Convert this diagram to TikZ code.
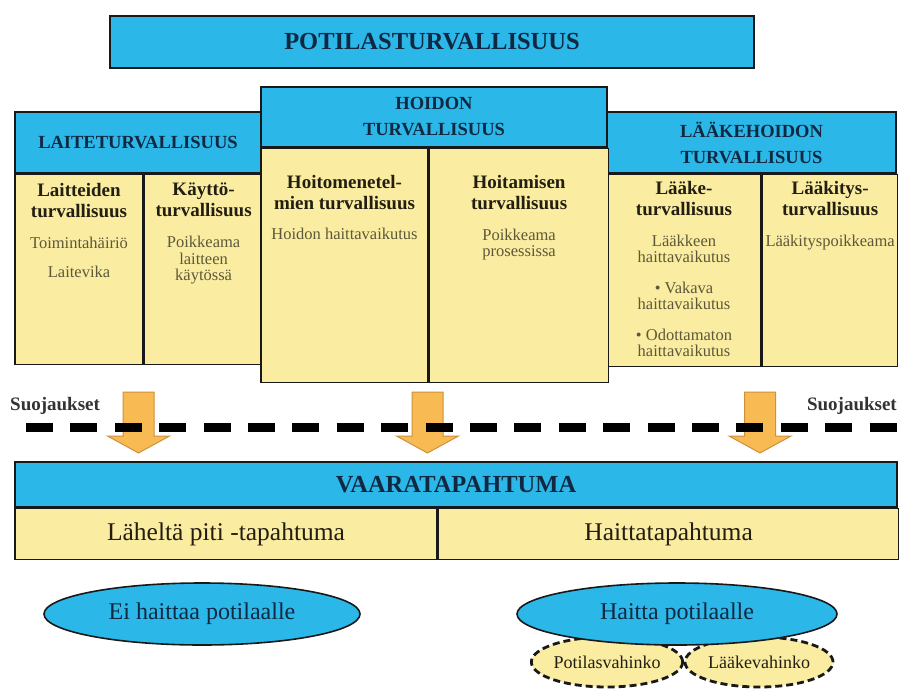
\documentclass[tikz,border=0pt]{standalone}
\usepackage{fontspec}
\setmainfont{Liberation Serif}
\usetikzlibrary{positioning,shapes.geometric}
\definecolor{skyblue}{RGB}{43,183,232}
\definecolor{paleyellow}{RGB}{250,236,160}
\definecolor{navytext}{RGB}{16,40,66}
\definecolor{darktext}{RGB}{35,30,18}
\definecolor{olivetext}{RGB}{92,88,58}
\definecolor{arrowfill}{RGB}{248,186,82}
\definecolor{arrowline}{RGB}{205,145,60}
\definecolor{edge}{RGB}{25,25,25}

\begin{document}
\begin{tikzpicture}[x=1pt, y=-1pt,
    bluebox/.style = {draw=edge, line width=1.6pt, fill=skyblue, text=navytext, inner sep=0pt, align=center},
    cell/.style = {draw=edge, line width=1.6pt, fill=paleyellow, text=darktext, inner sep=0pt, align=center},
    headfont/.style = {font=\bfseries\fontsize{18.5}{26}\selectfont},
    bigfont/.style = {font=\bfseries\fontsize{24.5}{28}\selectfont},
    celltitle/.style = {font=\bfseries\fontsize{19}{21}\selectfont, text=darktext, align=center, inner sep=0pt},
    celltext/.style = {font=\fontsize{16.5}{16.5}\selectfont, text=olivetext, align=center, inner sep=0pt},
    rowtext/.style = {font=\fontsize{25.5}{28}\selectfont},
    oval/.style = {draw=edge, line width=1.6pt, fill=skyblue, text=navytext, ellipse, inner sep=0pt, font=\fontsize{24}{26}\selectfont},
    dashoval/.style = {draw=edge, line width=2.8pt, dash pattern=on 7pt off 4pt, fill=paleyellow, text=darktext, ellipse, inner sep=0pt, font=\fontsize{18}{20}\selectfont},
    guard/.style = {font=\bfseries\fontsize{19}{21}\selectfont, text=black!80, inner sep=0pt},
    downarrow/.style = {draw=arrowline, line width=1pt, fill=arrowfill},
    barrier/.style = {draw=black, line width=9pt, dash pattern=on 27pt off 17.4pt}]

    \useasboundingbox (0,0) rectangle (904,688);

    \node[bluebox, bigfont, minimum width=644pt, minimum height=52pt] (title) at (432,42) {POTILASTURVALLISUUS};

    \node[bluebox, headfont, minimum width=246pt, minimum height=61pt] (laite) at (138,142.5) {LAITETURVALLISUUS};
    \node[cell, anchor=north west, minimum width=128pt, minimum height=190pt] (laite1) at (laite.south west) {};
    \node[cell, anchor=north west, minimum width=118pt, minimum height=190pt] (laite2) at (laite1.north east) {};
    \node[celltitle, below=8.9pt of laite1.north] (laite1t) {Laitteiden\\turvallisuus};
    \node[celltext, below=19pt of laite1t] (laite1x) {Toimintahäiriö\\[12.5pt]Laitevika};
    \node[celltitle, below=8.9pt of laite2.north] (laite2t) {Käyttö-\\turvallisuus};
    \node[celltext, below=19pt of laite2t] (laite2x) {Poikkeama\\laitteen\\käytössä};

    \node[bluebox, headfont, minimum width=289pt, minimum height=61pt] (laake) at (751.5,142.5) {LÄÄKEHOIDON\\TURVALLISUUS};
    \node[cell, anchor=north west, minimum width=154pt, minimum height=192pt] (laake1) at (laake.south west) {};
    \node[cell, anchor=north west, minimum width=135pt, minimum height=192pt] (laake2) at (laake1.north east) {};
    \node[celltitle, below=6.9pt of laake1.north] (laake1t) {Lääke-\\turvallisuus};
    \node[celltext, below=19pt of laake1t] (laake1x) {Lääkkeen\\haittavaikutus\\[14pt]\textbullet{} Vakava\\haittavaikutus\\[14pt]\textbullet{} Odottamaton\\haittavaikutus};
    \node[celltitle, below=6.9pt of laake2.north] (laake2t) {Lääkitys-\\turvallisuus};
    \node[celltext, below=19pt of laake2t] (laake2x) {Lääkityspoikkeama};

    \node[bluebox, headfont, minimum width=346pt, minimum height=60pt] (hoito) at (434,117) {HOIDON\\TURVALLISUUS};
    \node[cell, anchor=north west, minimum width=167pt, minimum height=234pt] (hoito1) at (hoito.south west) {};
    \node[cell, anchor=north west, minimum width=179pt, minimum height=234pt] (hoito2) at (hoito1.north east) {};
    \node[celltitle, below=26.9pt of hoito1.north] (hoito1t) {Hoitomenetel-\\mien turvallisuus};
    \node[celltext, below=18pt of hoito1t] (hoito1x) {Hoidon haittavaikutus};
    \node[celltitle, below=26.9pt of hoito2.north] (hoito2t) {Hoitamisen\\turvallisuus};
    \node[celltext, below=19pt of hoito2t] (hoito2x) {Poikkeama\\prosessissa};

    \node[guard, anchor=base west] (suojL) at (10,410) {Suojaukset};
    \node[guard, anchor=base east] (suojR) at (897,410) {Suojaukset};

    \foreach \x in {138.5, 427.5, 760}
        \draw[downarrow] (\x-15.5,392) -- (\x+15.5,392) -- (\x+15.5,436) -- (\x+31,436)
            -- (\x,453) -- (\x-31,436) -- (\x-15.5,436) -- cycle;

    \coordinate (barL) at (26,427);
    \coordinate (barR) at (904,427);
    \draw[barrier] (barL) -- (barR);

    \node[bluebox, bigfont, minimum width=882pt, minimum height=45pt] (vaara) at (456,484.5) {VAARATAPAHTUMA};
    \node[cell, rowtext, anchor=north west, minimum width=422pt, minimum height=51pt] (lahelta) at (vaara.south west) {Läheltä piti -tapahtuma};
    \node[cell, rowtext, anchor=north west, minimum width=460pt, minimum height=51pt] (haitta) at (lahelta.north east) {Haittatapahtuma};

    \node[oval, minimum width=316pt, minimum height=62pt] (eihaitta) at (202,614) {Ei haittaa potilaalle};
    \node[dashoval, minimum width=150pt, minimum height=50pt] (potilas) at (607,662) {Potilasvahinko};
    \node[dashoval, minimum width=148pt, minimum height=50pt] (laakev) at (759,662) {Lääkevahinko};
    \node[oval, minimum width=320pt, minimum height=62pt] (haittapot) at (677,614) {Haitta potilaalle};
\end{tikzpicture}
\end{document}
